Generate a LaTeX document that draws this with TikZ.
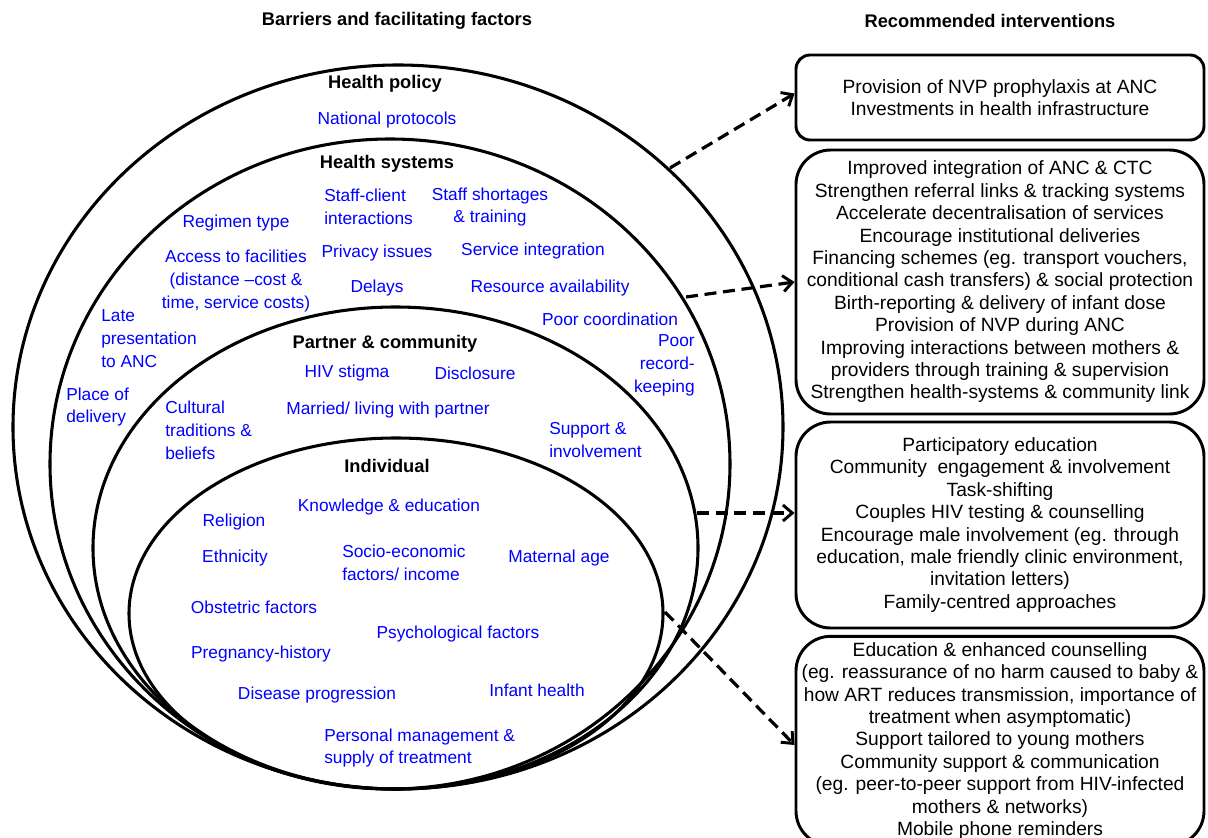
\documentclass[tikz,border=0pt]{standalone}
\usepackage{fontspec}
\setmainfont{Liberation Sans}
\usetikzlibrary{arrows.meta}
\tikzstyle{ring} = [line width=2.3pt]
\tikzstyle{arrow} = [line width=2.4pt,dash pattern=on 9pt off 5pt,-{Straight Barb[length=7pt,width=12pt,line width=2.2pt]}]
\tikzstyle{factor} = [text=blue,inner sep=0.75pt,font=\fontsize{13}{17.2}\selectfont]
\tikzstyle{level} = [inner sep=0.75pt,font=\bfseries\fontsize{13.7}{16}\selectfont]
\tikzstyle{intervention} = [draw,line width=2.2pt,rounded corners=26pt,align=center,minimum width=306pt,inner sep=2pt,font=\fontsize{14.4}{16.8}\selectfont]

\begin{document}
\begin{tikzpicture}[x=0.75pt,y=0.75pt,yscale=-1,xscale=1]
\path[use as bounding box] (0,0) rectangle (1208,838);

%Shape: Ellipse [health policy]
\draw [ring] (398,427) ellipse [x radius=385, y radius=362];
%Shape: Ellipse [health systems]
\draw [ring] (390,464) ellipse [x radius=340, y radius=325];
%Shape: Ellipse [partner & community]
\draw [ring] (395.5,548) ellipse [x radius=302.5, y radius=241];
%Shape: Ellipse [individual]
\draw [ring] (396,613.5) ellipse [x radius=267, y radius=175.5];

% Headers
\node [level] (hdrBarriers) at (397,21) {Barriers and facilitating factors};
\node [level] (hdrInterv) at (990,21) {Recommended interventions};

% Level labels
\node [level] (lblPolicy) at (385,84) {Health policy};
\node [level] (lblSystems) at (387,164) {Health systems};
\node [level] (lblPartner) at (385,344) {Partner \& community};
\node [level] (lblIndividual) at (387,466) {Individual};

% Text Node - health policy
\node [factor] (fNational) at (387,120) {National protocols};

% Text Node - health systems
\node [factor,anchor=west,align=left] (fStaffClient) at (323,207) {Staff-client\\interactions};
\node [factor,align=center] (fShortages) at (490,207) {Staff shortages\\\& training};
\node [factor] (fRegimen) at (236,223) {Regimen type};
\node [factor,align=center] (fAccess) at (236,281) {Access to facilities\\(distance –cost \&\\time, service costs)};
\node [factor] (fPrivacy) at (377,253) {Privacy issues};
\node [factor] (fIntegration) at (533,251) {Service integration};
\node [factor] (fDelays) at (377,288) {Delays};
\node [factor] (fResource) at (550,288) {Resource availability};
\node [factor] (fCoordination) at (610,319) {Poor coordination};
\node [factor,anchor=west,align=left] (fLate) at (100,339) {Late\\presentation\\to ANC};
\node [factor,anchor=west,align=left] (fPlace) at (65,407) {Place of\\delivery};
\node [factor,anchor=east,align=right] (fRecord) at (696,365) {Poor\\record-\\keeping};

% Text Node - partner & community
\node [factor] (fStigma) at (347,373) {HIV stigma};
\node [factor] (fDisclosure) at (475,373) {Disclosure};
\node [factor] (fMarried) at (388,410) {Married/ living with partner};
\node [factor,anchor=west,align=left] (fCultural) at (164,430) {Cultural\\traditions \&\\beliefs};
\node [factor,anchor=west,align=left] (fSupport) at (548,440) {Support \&\\involvement};

% Text Node - individual
\node [factor] (fKnowledge) at (389,507) {Knowledge \& education};
\node [factor] (fReligion) at (234,522) {Religion};
\node [factor] (fEthnicity) at (235,558) {Ethnicity};
\node [factor,anchor=west,align=left] (fSocio) at (341,563) {Socio-economic\\factors/ income};
\node [factor] (fAge) at (559,558) {Maternal age};
\node [factor] (fObstetric) at (254,607) {Obstetric factors};
\node [factor] (fPsych) at (458,634) {Psychological factors};
\node [factor] (fPregnancy) at (261,654) {Pregnancy-history};
\node [factor] (fDisease) at (317,695) {Disease progression};
\node [factor] (fInfant) at (537,690) {Infant health};
\node [factor,anchor=west,align=left] (fPersonal) at (323,748) {Personal management \&\\supply of treatment};

% Intervention boxes
\node [intervention,rounded corners=10.5pt,minimum height=63.75pt] (box1) at (1000,97.5)
  {Provision of NVP prophylaxis at ANC\\Investments in health infrastructure};
\node [intervention,minimum height=198pt] (box2) at (1000,282)
  {Improved integration of ANC \& CTC\\Strengthen referral links \& tracking systems\\Accelerate decentralisation of services\\Encourage institutional deliveries\\Financing schemes (eg. transport vouchers,\\conditional cash transfers) \& social protection\\Birth-reporting \& delivery of infant dose\\Provision of NVP during ANC\\Improving interactions between mothers \&\\providers through training \& supervision\\Strengthen health-systems \& community link};
\node [intervention,minimum height=154.5pt] (box3) at (1000,525)
  {Participatory education\\Community\ \ engagement \& involvement\\Task-shifting\\Couples HIV testing \& counselling\\Encourage male involvement (eg. through\\education, male friendly clinic environment,\\invitation letters)\\Family-centred approaches};
\node [intervention,minimum height=157pt] (box4) at (1000,741)
  {Education \& enhanced counselling\\(eg. reassurance of no harm caused to baby \&\\how ART reduces transmission, importance of\\treatment when asymptomatic)\\Support tailored to young mothers\\Community support \& communication\\(eg. peer-to-peer support from HIV-infected\\mothers \& networks)\\Mobile phone reminders};

% Arrow start points on the rings
\coordinate (policyOut) at (670,168);
\coordinate (systemsOut) at (686,297);
\coordinate (partnerOut) at (697,513);
\coordinate (individualOut) at (665,612);

% Arrows
\draw [arrow] (policyOut) -- ([yshift=-3pt]box1.west);
\draw [arrow] (systemsOut) -- (box2.west);
\draw [arrow] (partnerOut) -- (box3.west |- partnerOut);
\draw [arrow] (individualOut) -- ([yshift=3pt]box4.west);

\end{tikzpicture}
\end{document}
